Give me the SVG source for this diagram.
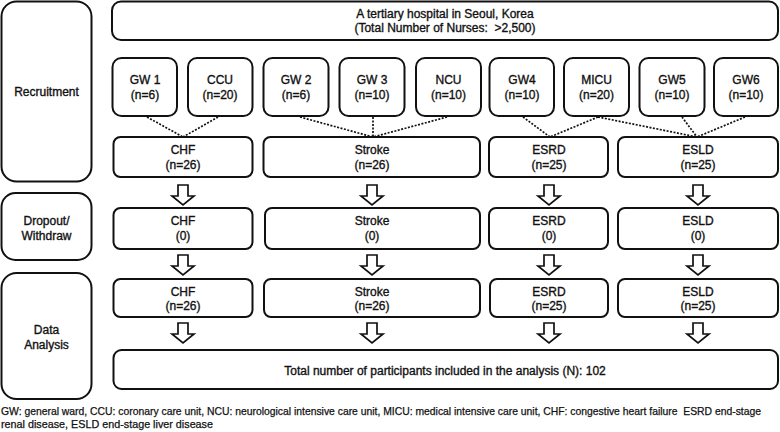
<svg xmlns="http://www.w3.org/2000/svg" width="780" height="432" viewBox="0 0 780 432">
<style>
.b{fill:#fff;stroke:#111;stroke-width:2}
.t{font-family:"Liberation Sans",Arial,sans-serif;font-size:12px;fill:#111;stroke:#111;stroke-width:0.35;text-anchor:middle;white-space:pre}
.f{font-family:"Liberation Sans",Arial,sans-serif;font-size:10.5px;fill:#111;stroke:#111;stroke-width:0.25;white-space:pre}
.d{stroke:#111;stroke-width:1.7;stroke-dasharray:2 1.5;fill:none}
.a{fill:#fff;stroke:#111;stroke-width:1.7;stroke-linejoin:miter}
</style>
<rect width="780" height="432" fill="#fff"/>
<g id="stage-recruitment"><rect class="b" x="1.5" y="1.5" width="90" height="180" rx="15"/><text class="t" x="46.5" y="96">Recruitment</text></g>
<g id="stage-dropout"><rect class="b" x="1.5" y="193" width="90" height="67" rx="14"/><text class="t" x="46.5" y="225">Dropout/</text><text class="t" x="46.5" y="240">Withdraw</text></g>
<g id="stage-analysis"><rect class="b" x="1.5" y="273" width="90" height="126" rx="15"/><text class="t" x="46.5" y="334">Data</text><text class="t" x="46.5" y="349">Analysis</text></g>
<g id="hospital"><rect class="b" x="112" y="1.5" width="666" height="38.5" rx="9"/><text class="t" x="445" y="18">A tertiary hospital in Seoul, Korea</text><text class="t" x="445" y="32">(Total Number of Nurses:  &gt;2,500)</text></g>
<g id="gw1"><rect class="b" x="112.5" y="58" width="64.5" height="58" rx="9"/><text class="t" x="145" y="84">GW 1</text><text class="t" x="145" y="99">(n=6)</text></g>
<g id="ccu"><rect class="b" x="188" y="58" width="64.5" height="58" rx="9"/><text class="t" x="220" y="84">CCU</text><text class="t" x="220" y="99">(n=20)</text></g>
<g id="gw2"><rect class="b" x="263.5" y="58" width="65" height="58" rx="9"/><text class="t" x="296" y="84">GW 2</text><text class="t" x="296" y="99">(n=6)</text></g>
<g id="gw3"><rect class="b" x="339.5" y="58" width="65" height="58" rx="9"/><text class="t" x="372" y="84">GW 3</text><text class="t" x="372" y="99">(n=10)</text></g>
<g id="ncu"><rect class="b" x="416" y="58" width="65" height="58" rx="9"/><text class="t" x="448.5" y="84">NCU</text><text class="t" x="448.5" y="99">(n=10)</text></g>
<g id="gw4"><rect class="b" x="489.5" y="58" width="64.5" height="58" rx="9"/><text class="t" x="522" y="84">GW4</text><text class="t" x="522" y="99">(n=10)</text></g>
<g id="micu"><rect class="b" x="564" y="58" width="65" height="58" rx="9"/><text class="t" x="596.5" y="84">MICU</text><text class="t" x="596.5" y="99">(n=20)</text></g>
<g id="gw5"><rect class="b" x="639.5" y="58" width="65" height="58" rx="9"/><text class="t" x="672" y="84">GW5</text><text class="t" x="672" y="99">(n=10)</text></g>
<g id="gw6"><rect class="b" x="714" y="58" width="64" height="58" rx="9"/><text class="t" x="746" y="84">GW6</text><text class="t" x="746" y="99">(n=10)</text></g>
<g id="chf1"><rect class="b" x="113.5" y="137" width="139" height="40" rx="7"/><text class="t" x="183" y="154">CHF</text><text class="t" x="183" y="169">(n=26)</text></g>
<g id="stroke1"><rect class="b" x="263.5" y="137" width="216.5" height="40" rx="7"/><text class="t" x="372" y="154">Stroke</text><text class="t" x="372" y="169">(n=26)</text></g>
<g id="esrd1"><rect class="b" x="489" y="137" width="119" height="40" rx="7"/><text class="t" x="549" y="154">ESRD</text><text class="t" x="549" y="169">(n=25)</text></g>
<g id="esld1"><rect class="b" x="618" y="137" width="160" height="40" rx="7"/><text class="t" x="698" y="154">ESLD</text><text class="t" x="698" y="169">(n=25)</text></g>
<g id="chf2"><rect class="b" x="113.5" y="208" width="139" height="41" rx="7"/><text class="t" x="183" y="225">CHF</text><text class="t" x="183" y="240">(0)</text></g>
<g id="stroke2"><rect class="b" x="265" y="208" width="215" height="41" rx="7"/><text class="t" x="372" y="225">Stroke</text><text class="t" x="372" y="240">(0)</text></g>
<g id="esrd2"><rect class="b" x="489" y="208" width="119" height="41" rx="7"/><text class="t" x="549" y="225">ESRD</text><text class="t" x="549" y="240">(0)</text></g>
<g id="esld2"><rect class="b" x="618" y="208" width="160" height="41" rx="7"/><text class="t" x="698" y="225">ESLD</text><text class="t" x="698" y="240">(0)</text></g>
<g id="chf3"><rect class="b" x="113.5" y="279" width="139" height="38" rx="7"/><text class="t" x="183" y="296">CHF</text><text class="t" x="183" y="310">(n=26)</text></g>
<g id="stroke3"><rect class="b" x="264" y="279" width="216" height="38" rx="7"/><text class="t" x="372" y="296">Stroke</text><text class="t" x="372" y="310">(n=26)</text></g>
<g id="esrd3"><rect class="b" x="490" y="279" width="118" height="38" rx="7"/><text class="t" x="549" y="296">ESRD</text><text class="t" x="549" y="310">(n=25)</text></g>
<g id="esld3"><rect class="b" x="618" y="279" width="160" height="38" rx="7"/><text class="t" x="698" y="296">ESLD</text><text class="t" x="698" y="310">(n=25)</text></g>
<g id="total"><rect class="b" x="113.5" y="350" width="664.5" height="39" rx="8"/><text class="t" x="445" y="375">Total number of participants included in the analysis (N): 102</text></g>
<g id="connectors">
<path class="d" d="M147 117L183 137M218 117L183 137M300 117L373 137M373 117V137M447 117L373 137M523 117L550 137M598 117L550 137M598 117L697 137M682 117L697 137M745 117L697 137"/>
<g id="arrows">
<polygon class="a" points="178,185 188,185 188,196 194,196 183,205 172,196 178,196"/>
<polygon class="a" points="367,185 377,185 377,196 383,196 372,205 361,196 367,196"/>
<polygon class="a" points="544,185 554,185 554,196 560,196 549,205 538,196 544,196"/>
<polygon class="a" points="693,185 703,185 703,196 709,196 698,205 687,196 693,196"/>
<polygon class="a" points="178,255 188,255 188,266 194,266 183,275 172,266 178,266"/>
<polygon class="a" points="367,255 377,255 377,266 383,266 372,275 361,266 367,266"/>
<polygon class="a" points="544,255 554,255 554,266 560,266 549,275 538,266 544,266"/>
<polygon class="a" points="693,255 703,255 703,266 709,266 698,275 687,266 693,266"/>
<polygon class="a" points="178,323 188,323 188,334 194,334 183,343 172,334 178,334"/>
<polygon class="a" points="367,323 377,323 377,334 383,334 372,343 361,334 367,334"/>
<polygon class="a" points="544,323 554,323 554,334 560,334 549,343 538,334 544,334"/>
<polygon class="a" points="693,323 703,323 703,334 709,334 698,343 687,334 693,334"/>
</g>
</g>
<text class="f" x="1" y="415" textLength="760" lengthAdjust="spacingAndGlyphs">GW: general ward, CCU: coronary care unit, NCU: neurological intensive care unit, MICU: medical intensive care unit, CHF: congestive heart failure  ESRD end-stage</text>
<text class="f" x="1" y="428" textLength="212" lengthAdjust="spacingAndGlyphs">renal disease, ESLD end-stage liver disease</text>
</svg>
